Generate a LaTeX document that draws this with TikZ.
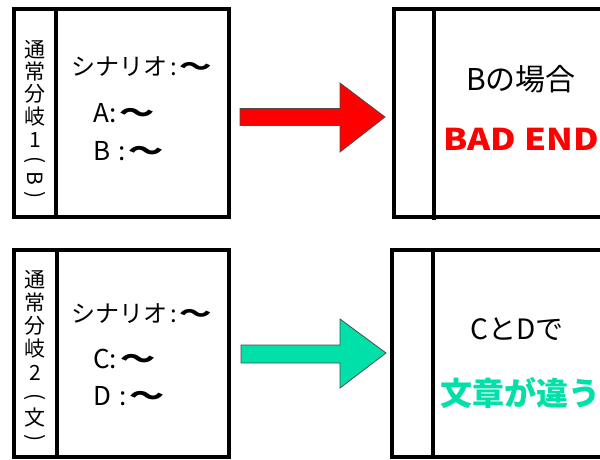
\documentclass[tikz,border=0pt]{standalone}
\usepackage{fontspec}
\setmainfont{Noto Sans CJK JP}
\newfontfamily\jp{Noto Sans CJK JP}
\definecolor{myred}{RGB}{255,0,0}
\definecolor{mygreen}{RGB}{0,224,168}
\newcommand{\wv}{\scalebox{1.35}[1.0]{\bfseries ～}}
\begin{document}
\begin{tikzpicture}[x=1pt,y=-1pt,
  frame/.style={draw=black,line width=4pt,fill=white},
  divline/.style={draw=black,line width=4pt},
  vch/.style={font=\jp\fontsize{21}{21}\selectfont,inner sep=0pt,anchor=center},
  body/.style={font=\jp\fontsize{26}{26}\selectfont,inner sep=0pt,anchor=base west},
  rbody/.style={font=\jp\fontsize{30}{30}\selectfont,inner sep=0pt,anchor=base},
  blockarrow/.style={draw=black!70,line width=0.8pt}]
\useasboundingbox (0,0) rectangle (600,460);
\clip (0,0) rectangle (600,460);
\fill[white] (0,0) rectangle (600,460);
% boxes
\draw[frame] (14,9) rectangle (229,217);
\draw[divline] (56,9) -- (56,217);
\draw[frame] (14,250) rectangle (229,457);
\draw[divline] (57,250) -- (57,457);
\draw[frame] (394,9) rectangle (640,217);
\draw[divline] (434,9) -- (434,220);
\draw[frame] (392,250) rectangle (640,457);
\draw[divline] (433,250) -- (433,457);
% vertical labels top
\node[vch] (t1) at (35,50) {通};
\node[vch] (t2) at (35,72) {常};
\node[vch] (t3) at (35,94) {分};
\node[vch] (t4) at (35,117) {岐};
\node[vch] (t5) at (35,140) {1};
\node[vch,rotate=-90] (t6) at (35,160) {(};
\node[vch,rotate=-90] (t7) at (35,178) {B};
\node[vch,rotate=-90] (t8) at (35,195) {)};
% vertical labels bottom
\node[vch] (u1) at (35,280) {通};
\node[vch] (u2) at (35,303) {常};
\node[vch] (u3) at (35,326) {分};
\node[vch] (u4) at (35,349) {岐};
\node[vch] (u5) at (35,373) {2};
\node[vch,rotate=-90] (u6) at (35,397) {(};
\node[vch] (u7) at (35,418) {文};
\node[vch,rotate=-90] (u8) at (35,438) {)};
% left body text
\node[body] (s1) at (71,76) {\fontsize{24}{24}\selectfont シナリオ\hspace{3pt}:\hspace{3pt}\wv};
\node[body] (a1) at (93,122) {A:\hspace{3pt}\wv};
\node[body] (b1) at (93,160) {B\hspace{8pt}:\hspace{3pt}\wv};
\node[body] (s2) at (71,322) {\fontsize{24}{24}\selectfont シナリオ\hspace{3pt}:\hspace{3pt}\wv};
\node[body] (c2) at (93,368) {C:\hspace{3pt}\wv};
\node[body] (d2) at (93,405) {D\hspace{8pt}:\hspace{3pt}\wv};
% right text
\node[rbody] (r1) at (521,90) {Bの場合};
\node[rbody,anchor=base west,text=myred,font=\jp\bfseries\fontsize{30}{30}\selectfont] (r2) at (443,150) {\scalebox{1.17}[1]{BAD END}};
\node[rbody,font=\jp\fontsize{28}{28}\selectfont] (r3) at (517,339) {CとDで};
\node[rbody,anchor=base west,text=mygreen,font=\jp\bfseries\fontsize{32}{32}\selectfont] (r4) at (440,405) {文章が違う};
% arrows
\filldraw[blockarrow,fill=myred] (240,108.5) -- (340,108.5) -- (340,83) -- (385,117) -- (340,152) -- (340,125.5) -- (240,125.5) -- cycle;
\filldraw[blockarrow,fill=mygreen] (241,345) -- (340,345) -- (340,319) -- (386,353) -- (340,388) -- (340,363) -- (241,363) -- cycle;
\end{tikzpicture}
\end{document}
